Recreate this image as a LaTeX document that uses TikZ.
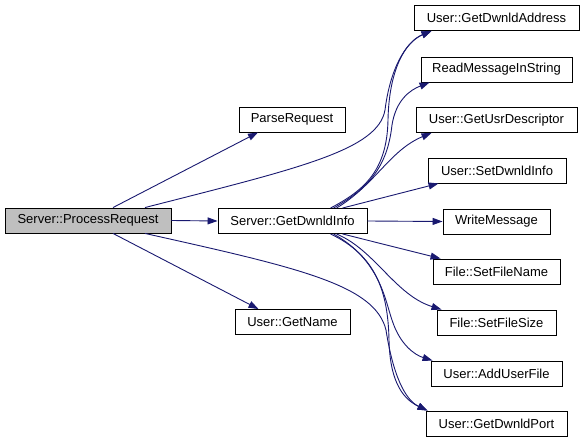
\documentclass[tikz,border=0pt]{standalone}
\usepackage{fontspec}
\setmainfont{Liberation Sans}
\usetikzlibrary{arrows.meta}
\definecolor{edgeblue}{RGB}{25,25,112}
\definecolor{hlgray}{RGB}{191,191,191}
\begin{document}
\begin{tikzpicture}[x=1pt,y=-1pt,
  box/.style={draw=black,line width=0.9pt,fill=white,inner sep=0pt,minimum height=25pt,font=\fontsize{13}{15}\selectfont},
  edge/.style={draw=edgeblue,line width=0.9pt,-{Triangle[length=10pt,width=7pt]}}]
\useasboundingbox (0,0) rectangle (584,443);
\node[box,fill=hlgray,minimum width=166pt] (pr) at (88,220.5) {Server::ProcessRequest};
\node[box,minimum width=149pt] (gdi) at (292.5,221) {Server::GetDwnldInfo};
\node[box,minimum width=106pt] (parse) at (292,119.5) {ParseRequest};
\node[box,minimum width=115pt] (gn) at (292.5,322) {User::GetName};
\node[box,minimum width=165pt] (gda) at (496.5,18) {User::GetDwnldAddress};
\node[box,minimum width=151pt] (rmis) at (496.5,69.5) {ReadMessageInString};
\node[box,minimum width=161pt] (gud) at (496.5,120) {User::GetUsrDescriptor};
\node[box,minimum width=138pt] (sdi) at (497,170.5) {User::SetDwnldInfo};
\node[box,minimum width=107pt] (wm) at (496.5,221.5) {WriteMessage};
\node[box,minimum width=127pt] (sfn) at (496.5,271.5) {File::SetFileName};
\node[box,minimum width=119pt] (sfs) at (496.5,322.5) {File::SetFileSize};
\node[box,minimum width=131pt] (auf) at (496.5,373.5) {User::AddUserFile};
\node[box,minimum width=141pt] (gdp) at (496.5,423.5) {User::GetDwnldPort};
% edges from ProcessRequest
\draw[edge] (pr.east) -- (gdi.west);
\draw[edge] ([xshift=25]pr.north) -- ([xshift=-34]parse.south);
\draw[edge] ([xshift=25]pr.south) -- ([xshift=-34]gn.north);
\draw[edge] ([xshift=57]pr.north) .. controls (300,168) and (378,150) .. (385,110)
  .. controls (390,70) and (405,42) .. ([xshift=18]gda.south west);
\draw[edge] ([xshift=57]pr.south) .. controls (300,268) and (375,285) .. (386,330)
  .. controls (393,375) and (405,400) .. ([xshift=2]gdp.north west);
% edges from GetDwnldInfo
\draw[edge] ([xshift=38]gdi.north) .. controls (365,190) and (387,170) .. (388,120)
  .. controls (389,70) and (405,42) .. ([xshift=18]gda.south west);
\draw[edge] ([xshift=41]gdi.north) .. controls (375,185) and (388,160) .. (392,125)
  .. controls (396,100) and (410,90) .. ([xshift=9]rmis.south west);
\draw[edge] ([xshift=44]gdi.north) .. controls (375,185) and (390,150) .. ([xshift=16]gud.south west);
\draw[edge] ([xshift=50]gdi.north) -- ([xshift=11]sdi.south west);
\draw[edge] (gdi.east) -- (wm.west);
\draw[edge] ([xshift=50]gdi.south) -- ([xshift=8]sfn.north west);
\draw[edge] ([xshift=44]gdi.south) .. controls (375,250) and (395,295) .. ([xshift=5]sfs.north west);
\draw[edge] ([xshift=41]gdi.south) .. controls (380,260) and (385,300) .. (392,320)
  .. controls (400,345) and (415,355) .. ([xshift=2]auf.north west);
\draw[edge] ([xshift=38]gdi.south) .. controls (375,255) and (388,290) .. (389,340)
  .. controls (390,385) and (405,400) .. ([xshift=2]gdp.north west);
\end{tikzpicture}
\end{document}
